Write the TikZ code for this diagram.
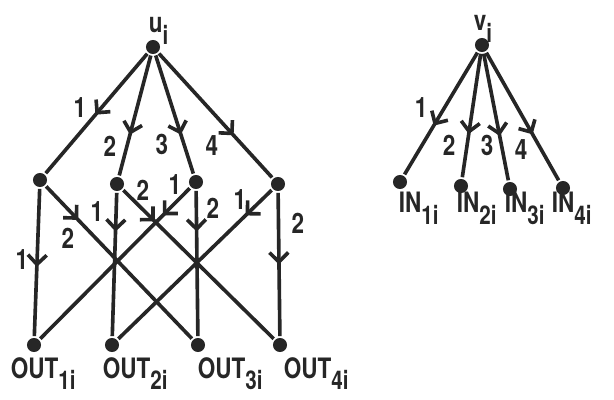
\documentclass[tikz,border=0pt]{standalone}
\usepackage{fontspec}
\setmainfont{TeX Gyre Heros}[FakeStretch=0.8]
\usetikzlibrary{arrows.meta, decorations.markings}

\newcommand{\lowsub}[1]{\raisebox{-10pt}{\fontsize{22}{22}\selectfont #1}}

\begin{document}
\begin{tikzpicture}[x=0.03cm, y=-0.03cm, line width=3.1pt, color=black!85,
  dot/.style={circle, fill=black!85, inner sep=0pt, minimum size=12pt},
  flow/.style={postaction={decorate, decoration={markings,
      mark=at position #1 with {\arrow{Straight Barb[length=8pt, width=16pt]}}}}},
  num/.style={font=\fontsize{24}{24}\selectfont\bfseries, inner sep=0pt},
  tag/.style={font=\fontsize{24}{24}\selectfont\bfseries, inner sep=0pt, anchor=base west}]
  \useasboundingbox (0,0) rectangle (614,400);

  % left graph: u_i
  \node[dot] (u) at (153,47) {};
  \node[tag] (ut) at (147,33) {u\lowsub{i}};
  \node[dot] (m1) at (40,180) {};
  \node[dot] (m2) at (117,184) {};
  \node[dot] (m3) at (196,182) {};
  \node[dot] (m4) at (278,184) {};
  \node[dot] (o1) at (34,345) {};
  \node[dot] (o2) at (112,345) {};
  \node[dot] (o3) at (198,345) {};
  \node[dot] (o4) at (280,345) {};
  \node[tag] (ot1) at (9,378) {OUT\lowsub{1i}};
  \node[tag] (ot2) at (101,378) {OUT\lowsub{2i}};
  \node[tag] (ot3) at (196,378) {OUT\lowsub{3i}};
  \node[tag] (ot4) at (282,378) {OUT\lowsub{4i}};

  \draw[flow=0.51] (u) -- (m1);
  \draw[flow=0.66] (u) -- (m2);
  \draw[flow=0.67] (u) -- (m3);
  \draw[flow=0.66] (u) -- (m4);
  \node[num] (n1) at (80,108) {1};
  \node[num] (n2) at (110,146) {2};
  \node[num] (n3) at (162,144) {3};
  \node[num] (n4) at (212,146) {4};

  \draw[flow=0.53] (m1) -- (o1);
  \draw[flow=0.22] (m1) -- (o3);
  \draw[flow=0.27] (m2) -- (o2);
  \draw[flow=0.21] (m2) -- (o4);
  \draw[flow=0.18] (m3) -- (o1);
  \draw[flow=0.28] (m3) -- (o3);
  \draw[flow=0.17] (m4) -- (o2);
  \draw[flow=0.50] (m4) -- (o4);
  \node[num] (n11) at (22,260) {1};
  \node[num] (n12) at (68,238) {2};
  \node[num] (n21) at (97,212) {1};
  \node[num] (n22) at (143,190) {2};
  \node[num] (n31) at (175,185) {1};
  \node[num] (n32) at (213,208) {2};
  \node[num] (n41) at (240,200) {1};
  \node[num] (n42) at (298,223) {2};

  % right graph: v_i
  \node[dot] (v) at (482,45) {};
  \node[tag] (vt) at (472,31) {v\lowsub{i}};
  \node[dot] (i1) at (400,182) {};
  \node[dot] (i2) at (461,186) {};
  \node[dot] (i3) at (510,189) {};
  \node[dot] (i4) at (563,188) {};
  \node[tag] (it1) at (397,213) {IN\lowsub{1i}};
  \node[tag] (it2) at (455,213) {IN\lowsub{2i}};
  \node[tag] (it3) at (503,213) {IN\lowsub{3i}};
  \node[tag] (it4) at (550,213) {IN\lowsub{4i}};

  \draw[flow=0.60] (v) -- (i1);
  \draw[flow=0.65] (v) -- (i2);
  \draw[flow=0.65] (v) -- (i3);
  \draw[flow=0.64] (v) -- (i4);
  \node[num] (k1) at (421,108) {1};
  \node[num] (k2) at (449,145) {2};
  \node[num] (k3) at (487,145) {3};
  \node[num] (k4) at (521,150) {4};
\end{tikzpicture}
\end{document}
